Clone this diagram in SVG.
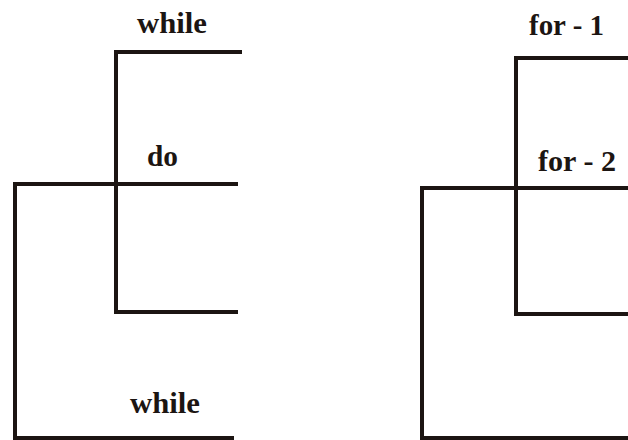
<svg xmlns="http://www.w3.org/2000/svg" width="628" height="440" viewBox="0 0 628 440">
<style>
.ln{fill:none;stroke:#1c1512;stroke-width:4;stroke-linejoin:miter;stroke-linecap:butt}
.t{font-family:"Liberation Serif","Times New Roman",serif;font-weight:bold;font-size:29px;fill:#1c1512}
</style>
<rect width="628" height="440" fill="#ffffff"/>
<g id="connectors">
<path class="ln" d="M242,52 H116 V312 H238"/>
<path class="ln" d="M238,184 H15 V438 H234"/>
<path class="ln" d="M628,58 H516 V314 H628"/>
<path class="ln" d="M628,188 H422 V440"/>
<path class="ln" d="M422,438 H628"/>
</g>
<g id="while-top"><text class="t" x="137" y="33" textLength="70" lengthAdjust="spacingAndGlyphs">while</text></g>
<g id="do"><text class="t" x="147" y="166" textLength="31" lengthAdjust="spacingAndGlyphs">do</text></g>
<g id="while-bottom"><text class="t" x="130" y="413" textLength="70" lengthAdjust="spacingAndGlyphs">while</text></g>
<g id="for-1"><text class="t" x="529" y="35" textLength="75" lengthAdjust="spacingAndGlyphs">for - 1</text></g>
<g id="for-2"><text class="t" x="538" y="171" textLength="78" lengthAdjust="spacingAndGlyphs">for - 2</text></g>
</svg>
